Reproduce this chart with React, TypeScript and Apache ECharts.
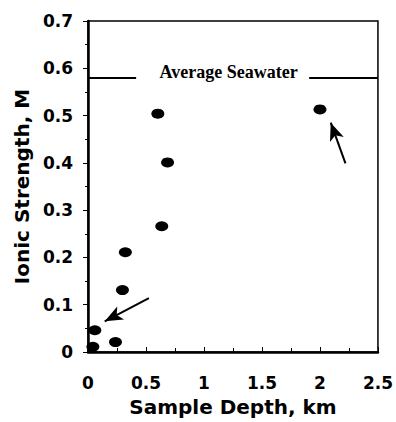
import React, { useEffect, useRef } from "react";
import * as echarts from "echarts";

const depthKm = [0.602, 0.686, 2.0, 0.636, 0.322, 0.297, 0.059, 0.237, 0.042];
const ionicStrength = [0.504, 0.401, 0.513, 0.266, 0.211, 0.131, 0.046, 0.021, 0.011];
const seawaterLevel = 0.58;
const seawaterLabel = "Average Seawater";
const seawaterGap = [0.415, 1.907];
const seawaterLabelX = 1.212;
const arrowLow = [[0.525, 0.114], [0.144, 0.065]];
const arrowHigh = [[2.22, 0.399], [2.093, 0.485]];

export default function App() {
  const ref = useRef<HTMLDivElement>(null);
  useEffect(() => {
    if (!ref.current) return;
    const chart = echarts.init(ref.current, null, { renderer: "svg" });
    const points = depthKm.map((d, i) => [d, ionicStrength[i]]);
    const tickFont = { fontFamily: "DejaVu Sans", fontWeight: "bold" as const, fontSize: 17, color: "#000" };
    const arrowLine = (p: number[][]) => [
      { coord: p[0], symbol: "none" },
      { coord: p[1], symbol: "arrow", symbolSize: [11, 18] },
    ];
    chart.setOption({
      animation: false,
      backgroundColor: "#fff",
      grid: { left: 88, right: 13, top: 21, bottom: 69, show: true, borderColor: "#000", borderWidth: 1.5 },
      xAxis: {
        type: "value",
        min: 0,
        max: 2.5,
        interval: 0.5,
        name: "Sample Depth, km",
        nameLocation: "middle",
        nameGap: 45,
        nameTextStyle: { fontFamily: "DejaVu Sans", fontWeight: "bold", fontSize: 20, color: "#000" },
        axisLine: { show: true, lineStyle: { color: "#000", width: 2.5 } },
        axisTick: { show: true, inside: true, length: 5, lineStyle: { color: "#000", width: 1 } },
        minorTick: { show: true, splitNumber: 2, length: 4, lineStyle: { color: "#000", width: 1 } },
        splitLine: { show: false },
        axisLabel: { ...tickFont, margin: 22 },
      },
      yAxis: {
        type: "value",
        min: 0,
        max: 0.7,
        interval: 0.1,
        name: "Ionic Strength, M",
        nameLocation: "middle",
        nameGap: 56,
        nameTextStyle: { fontFamily: "DejaVu Sans", fontWeight: "bold", fontSize: 20, color: "#000" },
        axisLine: { show: true, lineStyle: { color: "#000", width: 2.5 } },
        axisTick: { show: true, inside: false, length: 5, lineStyle: { color: "#000", width: 1 } },
        minorTick: { show: true, splitNumber: 2, length: 3, lineStyle: { color: "#000", width: 1 } },
        splitLine: { show: false },
        axisLabel: { ...tickFont, margin: 15 },
      },
      series: [
        {
          type: "scatter",
          data: points,
          symbol: "circle",
          symbolSize: [13, 10],
          itemStyle: { color: "#000", opacity: 1 },
          silent: true,
        },
        {
          type: "line",
          data: [],
          silent: true,
          markLine: {
            silent: true,
            animation: false,
            label: { show: false },
            lineStyle: { color: "#000", width: 2, type: "solid" },
            data: [
              [{ coord: [0, seawaterLevel], symbol: "none" }, { coord: [seawaterGap[0], seawaterLevel], symbol: "none" }],
              [{ coord: [seawaterGap[1], seawaterLevel], symbol: "none" }, { coord: [2.5, seawaterLevel], symbol: "none" }],
              arrowLine(arrowLow),
              arrowLine(arrowHigh),
            ],
          },
          markPoint: {
            silent: true,
            symbol: "rect",
            symbolSize: 0,
            data: [
              {
                coord: [seawaterLabelX, seawaterLevel],
                label: {
                  show: true,
                  position: "inside",
                  offset: [0, -6],
                  formatter: seawaterLabel,
                  fontFamily: "Liberation Serif",
                  fontWeight: "bold",
                  fontSize: 18,
                  color: "#000",
                },
              },
            ],
          },
        },
      ],
    });
    return () => chart.dispose();
  }, []);
  return <div ref={ref} style={{ position: "absolute", left: 0, top: 0, width: 396, height: 422 }} />;
}
